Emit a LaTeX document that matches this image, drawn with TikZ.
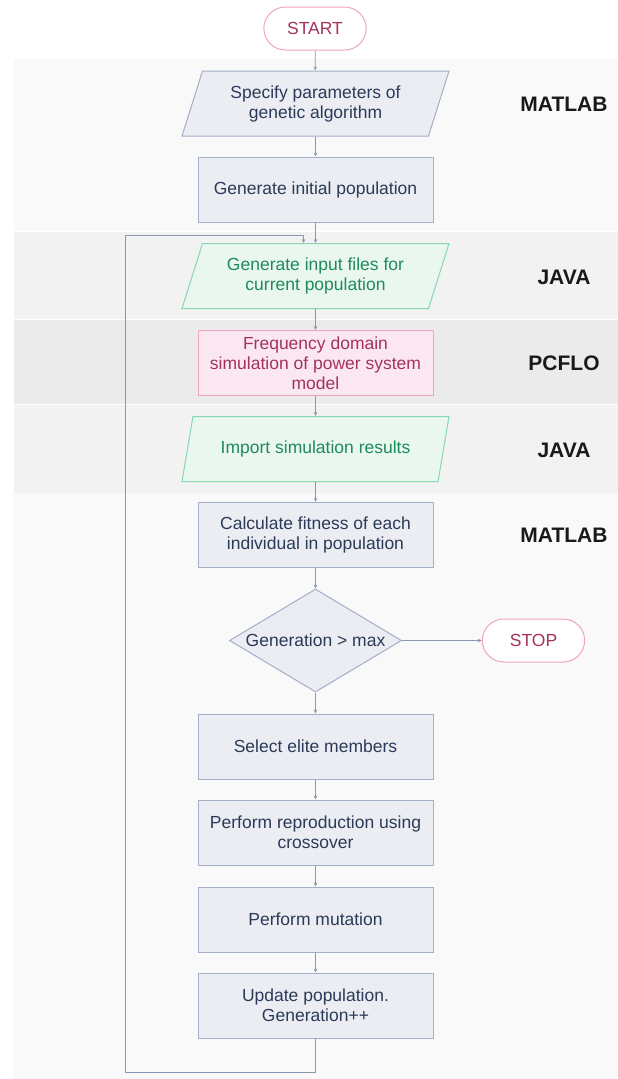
\documentclass[tikz,border=0pt]{standalone}
\usepackage{fontspec}
\setmainfont{Liberation Sans}
\usetikzlibrary{shapes.geometric,shapes.misc,arrows.meta}
\definecolor{bandlight}{HTML}{F9F9F9}
\definecolor{bandmid}{HTML}{F2F2F2}
\definecolor{banddark}{HTML}{EBEBEB}
\definecolor{grayfill}{HTML}{EBEDF2}
\definecolor{grayline}{HTML}{A3AEC8}
\definecolor{graytext}{HTML}{2B3A58}
\definecolor{greenfill}{HTML}{E9F7EF}
\definecolor{greenline}{HTML}{86D8B0}
\definecolor{greentext}{HTML}{1F8A5B}
\definecolor{pinkfill}{HTML}{FBE7EF}
\definecolor{pinkline}{HTML}{F0A3C3}
\definecolor{pinktext}{HTML}{A3325F}
\definecolor{flowline}{HTML}{8A96B4}

\begin{document}
\begin{tikzpicture}[x = 1pt, y = -1pt, > = {Stealth[length=4pt,width=3.5pt]},
	every node/.style = {font=\fontsize{17.5}{20}\selectfont, align=center},
	proc/.style = {rectangle, draw=grayline, fill=grayfill, text=graytext, line width=1pt, minimum width=235pt, minimum height=65pt},
	io/.style = {trapezium, trapezium left angle=64.5, trapezium right angle=115.5, trapezium stretches body, draw=grayline, fill=grayfill, text=graytext, line width=1pt, minimum width=267pt, minimum height=65pt},
	green/.style = {draw=greenline, fill=greenfill, text=greentext},
	pink/.style = {draw=pinkline, fill=pinkfill, text=pinktext},
	term/.style = {rounded rectangle, draw=pinkline, fill=white, text=pinktext, line width=1pt, minimum width=109pt, minimum height=43pt},
	decision/.style = {diamond, aspect=1.67, inner sep=0pt, draw=grayline, fill=grayfill, text=graytext, line width=1pt, minimum width=172pt, minimum height=103pt},
	tool/.style = {font=\fontsize{21}{24}\selectfont\bfseries, text=black!90},
	flow/.style = {->, draw=flowline, line width=0.8pt}]
		\useasboundingbox (0,0) rectangle (618,1079);
		% swim lanes
		\filldraw[bandlight, draw=white] (13,58) rectangle (618,231);
		\filldraw[bandmid, draw=white] (13,231) rectangle (618,319);
		\filldraw[banddark, draw=white] (13,319) rectangle (618,404);
		\filldraw[bandmid, draw=white] (13,404) rectangle (618,493);
		\fill[bandlight] (13,493) rectangle (618,1079);
		\node[tool] (matA) at (564,104) {MATLAB};
		\node[tool] (javA) at (564,277) {JAVA};
		\node[tool] (pcf) at (564,363) {PCFLO};
		\node[tool] (javB) at (564,450) {JAVA};
		\node[tool] (matB) at (564,535) {MATLAB};
		% steps
		\node[term] (start) at (315,28.5) {START};
		\node[io] (spec) at (315.5,103.5) {Specify parameters of\\genetic algorithm};
		\node[proc] (init) at (315.5,189.5) {Generate initial population};
		\node[io, green] (gin) at (315.5,276) {Generate input files for\\current population};
		\node[proc, pink] (sim) at (315.5,363) {Frequency domain\\simulation of power system\\model};
		\node[io, green] (imp) at (315.5,449) {Import simulation results};
		\node[proc] (fit) at (315.5,535) {Calculate fitness of each\\individual in population};
		\node[decision] (cmp) at (315.5,640.5) {Generation > max};
		\node[term] (stop) at (533.5,640.5) {STOP};
		\node[proc] (elite) at (315.5,746.5) {Select elite members};
		\node[proc] (repro) at (315.5,832.5) {Perform reproduction using\\crossover};
		\node[proc] (mut) at (315.5,919.5) {Perform mutation};
		\node[proc] (upd) at (315.5,1005.5) {Update population.\\Generation++};
		% connectors
		\draw[flow] (start) -- (spec);
		\draw[flow] (spec) -- (init);
		\draw[flow] (init) -- (gin);
		\draw[flow] (gin) -- (sim);
		\draw[flow] (sim) -- (imp);
		\draw[flow] (imp) -- (fit);
		\draw[flow] (fit) -- (cmp);
		\draw[flow] (cmp) -- (stop);
		\draw[flow] (cmp) -- (elite);
		\draw[flow] (elite) -- (repro);
		\draw[flow] (repro) -- (mut);
		\draw[flow] (mut) -- (upd);
		\draw[flow] (upd.south) -- ++(0,34) -| (125,235) -| ([xshift=-12pt]gin.north);
	\end{tikzpicture}
\end{document}
